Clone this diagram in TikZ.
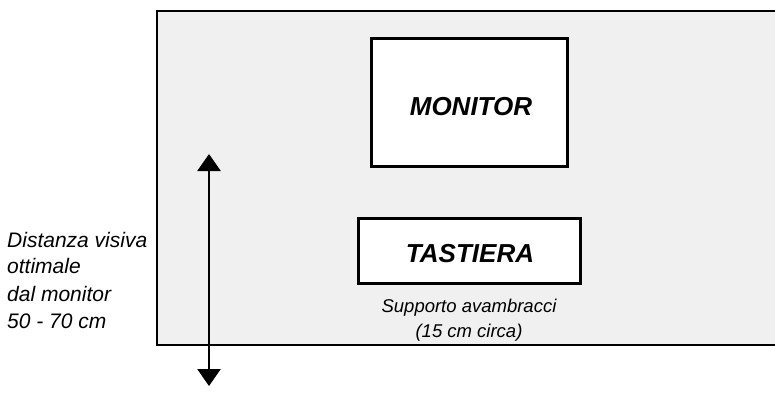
\documentclass[tikz,border=0pt]{standalone}
\usepackage{fontspec}
\setmainfont{Liberation Sans}
\usetikzlibrary{arrows.meta}
\definecolor{desk}{HTML}{F0F0F0}
\tikzset{
  box/.style={draw=black, line width=2.4pt, fill=white, inner sep=0pt},
  bigtxt/.style={font=\fontsize{26}{30}\selectfont\bfseries\itshape, inner sep=0pt, anchor=base},
  lbl/.style={font=\fontsize{21}{24}\selectfont\itshape, inner sep=0pt, anchor=base west},
  note/.style={font=\fontsize{18.5}{22}\selectfont\itshape, inner sep=0pt, anchor=base},
  dim/.style={line width=2.6pt, {Triangle[width=23pt,length=17pt]}-{Triangle[width=23pt,length=17pt]}}
}
\begin{document}
\begin{tikzpicture}[x=1pt,y=-1pt]
\useasboundingbox (0,0) rectangle (775,392);
\fill[desk] (157,11) rectangle (780,345);
\draw[line width=2.8pt] (780,11) -- (157,11) -- (157,345) -- (780,345);
\node[box, minimum width=196pt, minimum height=128pt] (mon) at (469.5,102.5) {};
\node[bigtxt] (montxt) at (471,115) {MONITOR};
\node[box, minimum width=222pt, minimum height=65pt] (tas) at (469.5,251) {};
\node[bigtxt] (tastxt) at (470,262) {TASTIERA};
\node[note] (sup) at (469,312) {Supporto avambracci};
\node[note] (circa) at (469,337) {(15 cm circa)};
\coordinate (top) at (209,154);
\coordinate (bot) at (209,386);
\draw[dim] (bot) -- (top);
\node[lbl] (l1) at (7,247) {Distanza visiva};
\node[lbl] (l2) at (7,273) {ottimale};
\node[lbl] (l3) at (7,301) {dal monitor};
\node[lbl] (l4) at (7,328) {50 - 70 cm};
\end{tikzpicture}
\end{document}
